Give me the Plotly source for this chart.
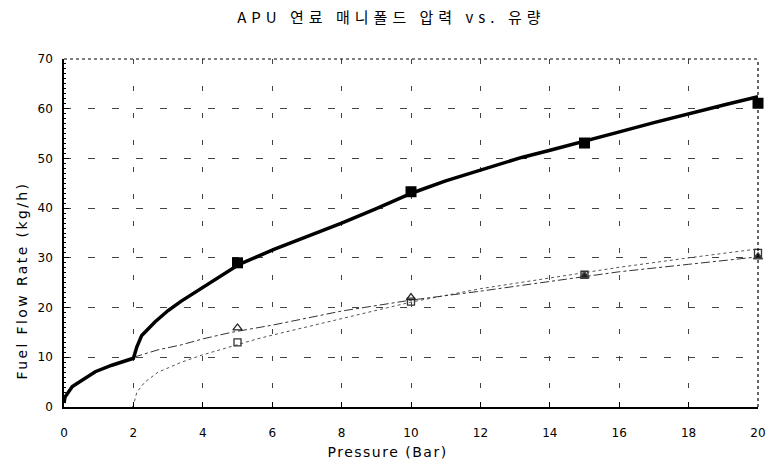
import plotly.graph_objects as go

# Main manifold curve (thick solid)
main_x = [0, 0.03, 0.24, 0.52, 0.9, 1.38, 2.0, 2.1, 2.24, 2.62, 3.0, 3.38, 3.95, 4.52, 5.05,
          6.05, 7.09, 8.0, 9.0, 10.05, 11.0, 11.95, 13.19, 13.98, 15.0, 15.98, 17.0, 18.0, 19.1, 20.0]
main_y = [0.8, 2.0, 4.1, 5.4, 7.1, 8.4, 9.8, 12.1, 14.4, 17.1, 19.4, 21.3, 23.8, 26.3, 28.7,
          31.7, 34.5, 37.0, 39.9, 43.1, 45.5, 47.6, 50.2, 51.6, 53.4, 55.3, 57.2, 59.0, 60.9, 62.4]
main_mx = [5, 10, 15, 20]
main_my = [29.0, 43.3, 53.1, 61.1]

# Second curve (thin dash-dot, triangle markers)
tri_x = [2.0, 2.71, 3.38, 4.0, 4.81, 5.57, 6.03, 8.0, 10.0, 12.0, 14.0, 15.0, 16.0, 18.0, 20.0]
tri_y = [10.0, 11.5, 12.5, 13.7, 15.0, 15.9, 16.5, 19.3, 21.5, 23.3, 25.3, 26.3, 27.2, 28.7, 30.2]
tri_mx = [5, 10, 15, 20]
tri_my = [15.9, 22.0, 26.4, 30.2]
tri_symbols = ["triangle-up-open", "triangle-up-open", "triangle-up", "triangle-up"]

# Third curve (thin dotted, square markers)
sq_x = [1.97, 2.0, 2.1, 2.33, 2.71, 3.38, 4.0, 5.0, 5.57, 6.03, 8.0, 10.0, 12.0, 14.0, 15.0, 16.0, 18.0, 20.0]
sq_y = [0.0, 0.3, 3.0, 5.0, 7.0, 9.0, 10.5, 12.6, 13.7, 14.5, 17.8, 21.1, 23.8, 26.0, 27.1, 28.1, 30.0, 31.8]
sq_mx = [5, 10, 15, 20]
sq_my = [13.0, 21.2, 26.6, 31.0]

x_ticks = list(range(0, 21, 2))
y_ticks = list(range(0, 71, 10))

cjk_font = "Noto Sans CJK KR, DejaVu Sans, sans-serif"
latin_font = "DejaVu Sans, sans-serif"

fig = go.Figure()

fig.add_trace(go.Scatter(x=sq_x, y=sq_y, mode="lines",
                         line=dict(color="#555555", width=1, dash="dot"), showlegend=False))
fig.add_trace(go.Scatter(x=tri_x, y=tri_y, mode="lines",
                         line=dict(color="#333333", width=1, dash="dashdot"), showlegend=False))
fig.add_trace(go.Scatter(x=main_x, y=main_y, mode="lines",
                         line=dict(color="black", width=3.5), showlegend=False))

fig.add_trace(go.Scatter(x=sq_mx, y=sq_my, mode="markers", cliponaxis=False,
                         marker=dict(symbol="square-open", size=7, color="#333333",
                                     line=dict(width=1.3)), showlegend=False))
fig.add_trace(go.Scatter(x=tri_mx, y=tri_my, mode="markers", cliponaxis=False,
                         marker=dict(symbol=tri_symbols, size=8, color="#222222",
                                     line=dict(width=1.3)), showlegend=False))
fig.add_trace(go.Scatter(x=main_mx, y=main_my, mode="markers", cliponaxis=False,
                         marker=dict(symbol="square", size=11, color="black"), showlegend=False))

# dotted top and right frame edges
fig.add_shape(type="line", xref="paper", yref="paper", x0=0, x1=1, y0=1, y1=1,
              line=dict(color="black", width=1.2, dash="dot"))
fig.add_shape(type="line", xref="paper", yref="paper", x0=1, x1=1, y0=0, y1=1,
              line=dict(color="black", width=1.2, dash="dot"))

# axis titles placed as annotations
fig.add_annotation(text="Pressure (Bar)", xref="paper", yref="paper", x=0.466, y=-0.129,
                   xanchor="center", yanchor="middle", showarrow=False,
                   font=dict(size=14, family=latin_font))
fig.add_annotation(text="Fuel Flow Rate (kg/h)", xref="paper", yref="paper", x=-0.06, y=0.365,
                   xanchor="center", yanchor="middle", showarrow=False, textangle=-90,
                   font=dict(size=14, family=latin_font))

fig.update_layout(
    width=775, height=464,
    margin=dict(l=64, r=9, t=59, b=57),
    paper_bgcolor="white", plot_bgcolor="white",
    font=dict(family=latin_font, color="black", size=12),
    title=dict(text="APU 연료 매니폴드 압력 vs. 유량", x=0.505, xanchor="center",
               y=0.962, yanchor="middle", font=dict(size=15, family=cjk_font)),
    xaxis=dict(range=[0, 20], tickvals=x_ticks, ticktext=[str(v) for v in x_ticks],
               showline=True, linecolor="black", linewidth=1.5, ticks="inside",
               ticklen=5, tickcolor="black", showgrid=True, gridcolor="#444444",
               griddash="5px,22px", gridwidth=1, zeroline=False, ticklabelstandoff=14,
               tickfont=dict(size=12)),
    yaxis=dict(range=[0, 70], tickvals=y_ticks, ticktext=[str(v) for v in y_ticks],
               showline=True, linecolor="black", linewidth=1.5, ticks="inside",
               ticklen=5, tickcolor="black", showgrid=True, gridcolor="#444444",
               griddash="7px,17px", gridwidth=1, zeroline=False, ticklabelstandoff=7,
               minor=dict(dtick=1, ticks="inside", ticklen=2, tickcolor="black", showgrid=False),
               tickfont=dict(size=12)),
)

# wider letter spacing for the title and axis titles
spacing_js = """
document.querySelectorAll('.gtitle').forEach(function (el) { el.style.letterSpacing = '5px'; });
var sp = {'Pressure (Bar)': '1.5px', 'Fuel Flow Rate (kg/h)': '2.4px'};
document.querySelectorAll('.annotation-text').forEach(function (el) {
  if (sp[el.textContent]) { el.style.letterSpacing = sp[el.textContent]; }
});
"""

fig.write_html("out.html", post_script=spacing_js)
